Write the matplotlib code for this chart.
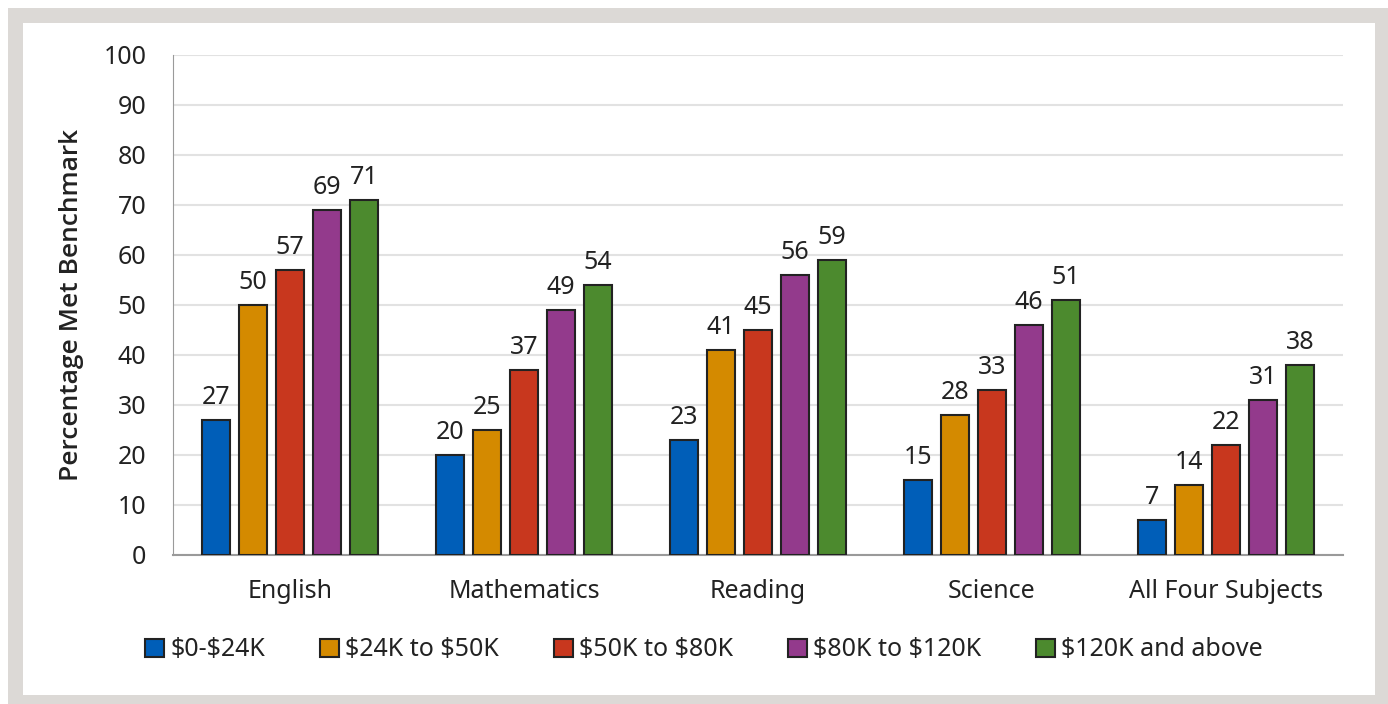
import matplotlib
matplotlib.use("Agg")
import matplotlib.pyplot as plt
import numpy as np
from matplotlib.patches import Rectangle

plt.rcParams['font.family'] = ['Noto Sans', 'DejaVu Sans']
plt.rcParams['text.parse_math'] = False

categories = ["English", "Mathematics", "Reading", "Science", "All Four Subjects"]
series_names = ["$0-$24K", "$24K to $50K", "$50K to $80K", "$80K to $120K", "$120K and above"]
values = [
    [27, 20, 23, 15, 7],
    [50, 25, 41, 28, 14],
    [57, 37, 45, 33, 22],
    [69, 49, 56, 46, 31],
    [71, 54, 59, 51, 38],
]
colors = ["#005EB8", "#D48A00", "#C8371E", "#933A8C", "#4C8A2E"]
yticks = [0, 10, 20, 30, 40, 50, 60, 70, 80, 90, 100]

W, H = 1388, 704
fig = plt.figure(figsize=(W / 100, H / 100), dpi=100)
fig.patch.set_facecolor("white")
# frame
fig.patches.append(Rectangle((8 / W, 0), (W - 8) / W, (H - 8) / H, transform=fig.transFigure,
                             facecolor="#DCD9D6", edgecolor="none", zorder=-10))
fig.patches.append(Rectangle((23 / W, 9 / H), (1375 - 23) / W, (695 - 23) / H, transform=fig.transFigure,
                             facecolor="white", edgecolor="none", zorder=-9))

ax = fig.add_axes([173 / W, (H - 555) / H, (1343 - 173) / W, 500 / H])
ax.set_facecolor("none")

x = np.arange(len(categories))
step = 0.158
bw = 0.12
fs = 18
for i, (name, vals, c) in enumerate(zip(series_names, values, colors)):
    pos = x + (i - 2) * step
    bars = ax.bar(pos, vals, width=bw, color=c, edgecolor="#222222", linewidth=1.5,
                  label=name, zorder=3)
    for b, v in zip(bars, vals):
        ax.text(b.get_x() + b.get_width() / 2, v + 2.0, str(v), ha="center", va="bottom",
                fontsize=fs, color="#222222")

ax.set_xlim(-0.5, len(categories) - 0.5)
ax.set_ylim(0, 100)
ax.set_yticks(yticks)
ax.set_xticks(x)
ax.set_xticklabels(categories, fontsize=fs, color="#222222")
ax.tick_params(axis="y", labelsize=fs, colors="#222222", length=0, pad=19)
ax.tick_params(axis="x", length=0, pad=17)
ax.grid(axis="y", color="#E2E2E2", linewidth=1.5, zorder=0)
for s in ["top", "right"]:
    ax.spines[s].set_visible(False)
ax.spines["left"].set_color("#9A9A9A")
ax.spines["bottom"].set_color("#9A9A9A")
ax.spines["bottom"].set_linewidth(1.5)
ax.set_ylabel("Percentage Met Benchmark", fontsize=19, fontweight="semibold",
              family=["Open Sans", "DejaVu Sans"], color="#222222", labelpad=14)

leg = fig.legend(loc="center", bbox_to_anchor=(704 / W, (H - 650) / H), ncol=5, frameon=False,
                 fontsize=fs, handlelength=0.75, handleheight=0.75, handletextpad=0.25, columnspacing=2.2)
for t in leg.get_texts():
    t.set_color("#222222")

fig.savefig("out.png", dpi=100)
